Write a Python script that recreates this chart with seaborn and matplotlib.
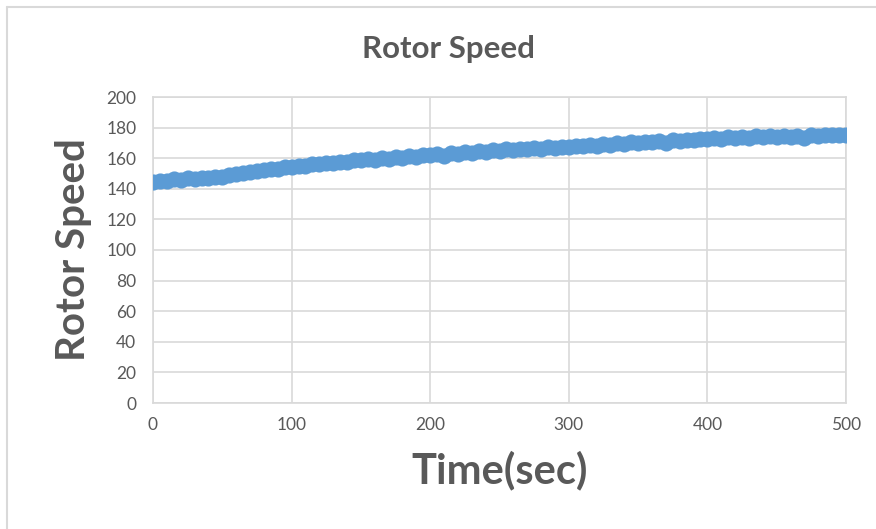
import matplotlib
matplotlib.use("Agg")
import matplotlib.pyplot as plt
from matplotlib.lines import Line2D
import seaborn as sns
import pandas as pd

time_sec = list(range(0, 505, 5))
rotor_speed = [
    144.4, 145.0, 145.4, 146.3, 146.0, 146.9, 146.6, 147.3, 147.0, 147.8,
    148.0, 149.1, 149.4, 150.6, 150.7, 151.9, 152.0, 153.2, 153.2, 154.3,
    154.3, 155.2, 155.0, 156.1, 156.0, 157.0, 156.8, 157.8, 157.6, 158.6,
    158.5, 159.3, 159.1, 160.1, 159.8, 160.7, 160.4, 161.3, 161.0, 162.0,
    161.8, 162.6, 161.6, 163.2, 162.9, 163.8, 163.6, 164.5, 164.3, 165.3,
    165.0, 165.8, 165.5, 166.3, 165.9, 166.7, 166.3, 167.1, 166.8, 167.5,
    167.1, 168.0, 167.7, 168.6, 168.3, 169.2, 168.9, 169.8, 169.4, 170.4,
    170.1, 170.9, 170.5, 171.3, 169.9, 171.7, 171.3, 172.2, 171.9, 172.8,
    172.4, 173.2, 172.8, 173.6, 173.1, 173.8, 173.2, 174.2, 173.7, 174.4,
    173.9, 174.6, 174.1, 174.8, 172.9, 175.0, 174.5, 175.3, 174.9, 175.4,
    175.2,
]

df = pd.DataFrame({"Time(sec)": time_sec, "Rotor Speed": rotor_speed})

sns.set_theme(style="white")
plt.rcParams["font.family"] = ["Lato", "DejaVu Sans"]

fig = plt.figure(figsize=(8.76, 5.29), dpi=100)
ax = fig.add_axes([153 / 876, 1 - 403 / 529, (846 - 153) / 876, (403 - 97) / 529])

sns.scatterplot(data=df, x="Time(sec)", y="Rotor Speed", ax=ax,
                color="#5B9BD5", s=135, linewidth=0, alpha=1.0, zorder=3)

ax.set_xlim(0, 500)
ax.set_ylim(0, 200)
ax.set_xticks(range(0, 501, 100))
ax.set_yticks(range(0, 201, 20))
ax.grid(True, color="#D9D9D9", linewidth=1.2)
ax.set_axisbelow(True)
for sp in ax.spines.values():
    sp.set_color("#D9D9D9")
    sp.set_linewidth(1.2)
ax.tick_params(axis="both", length=0, labelsize=12.5, labelcolor="#595959")
ax.tick_params(axis="x", pad=10)
ax.tick_params(axis="y", pad=12)

ax.set_xlabel("Time(sec)", fontsize=30, fontweight="bold", color="#595959", labelpad=13)
ax.set_ylabel("Rotor Speed", fontsize=29, fontweight="bold", color="#595959", labelpad=10)
fig.text(448 / 876, 1 - 49 / 529, "Rotor Speed", ha="center", va="center",
         fontsize=22.5, fontweight="bold", color="#595959")

fig.add_artist(Line2D([7 / 876, 1.0], [1 - 7 / 529, 1 - 7 / 529],
                      transform=fig.transFigure, color="#D9D9D9", linewidth=1.5))
fig.add_artist(Line2D([7 / 876, 7 / 876], [0, 1 - 7 / 529],
                      transform=fig.transFigure, color="#D9D9D9", linewidth=1.5))

fig.savefig("out.png", dpi=100)
